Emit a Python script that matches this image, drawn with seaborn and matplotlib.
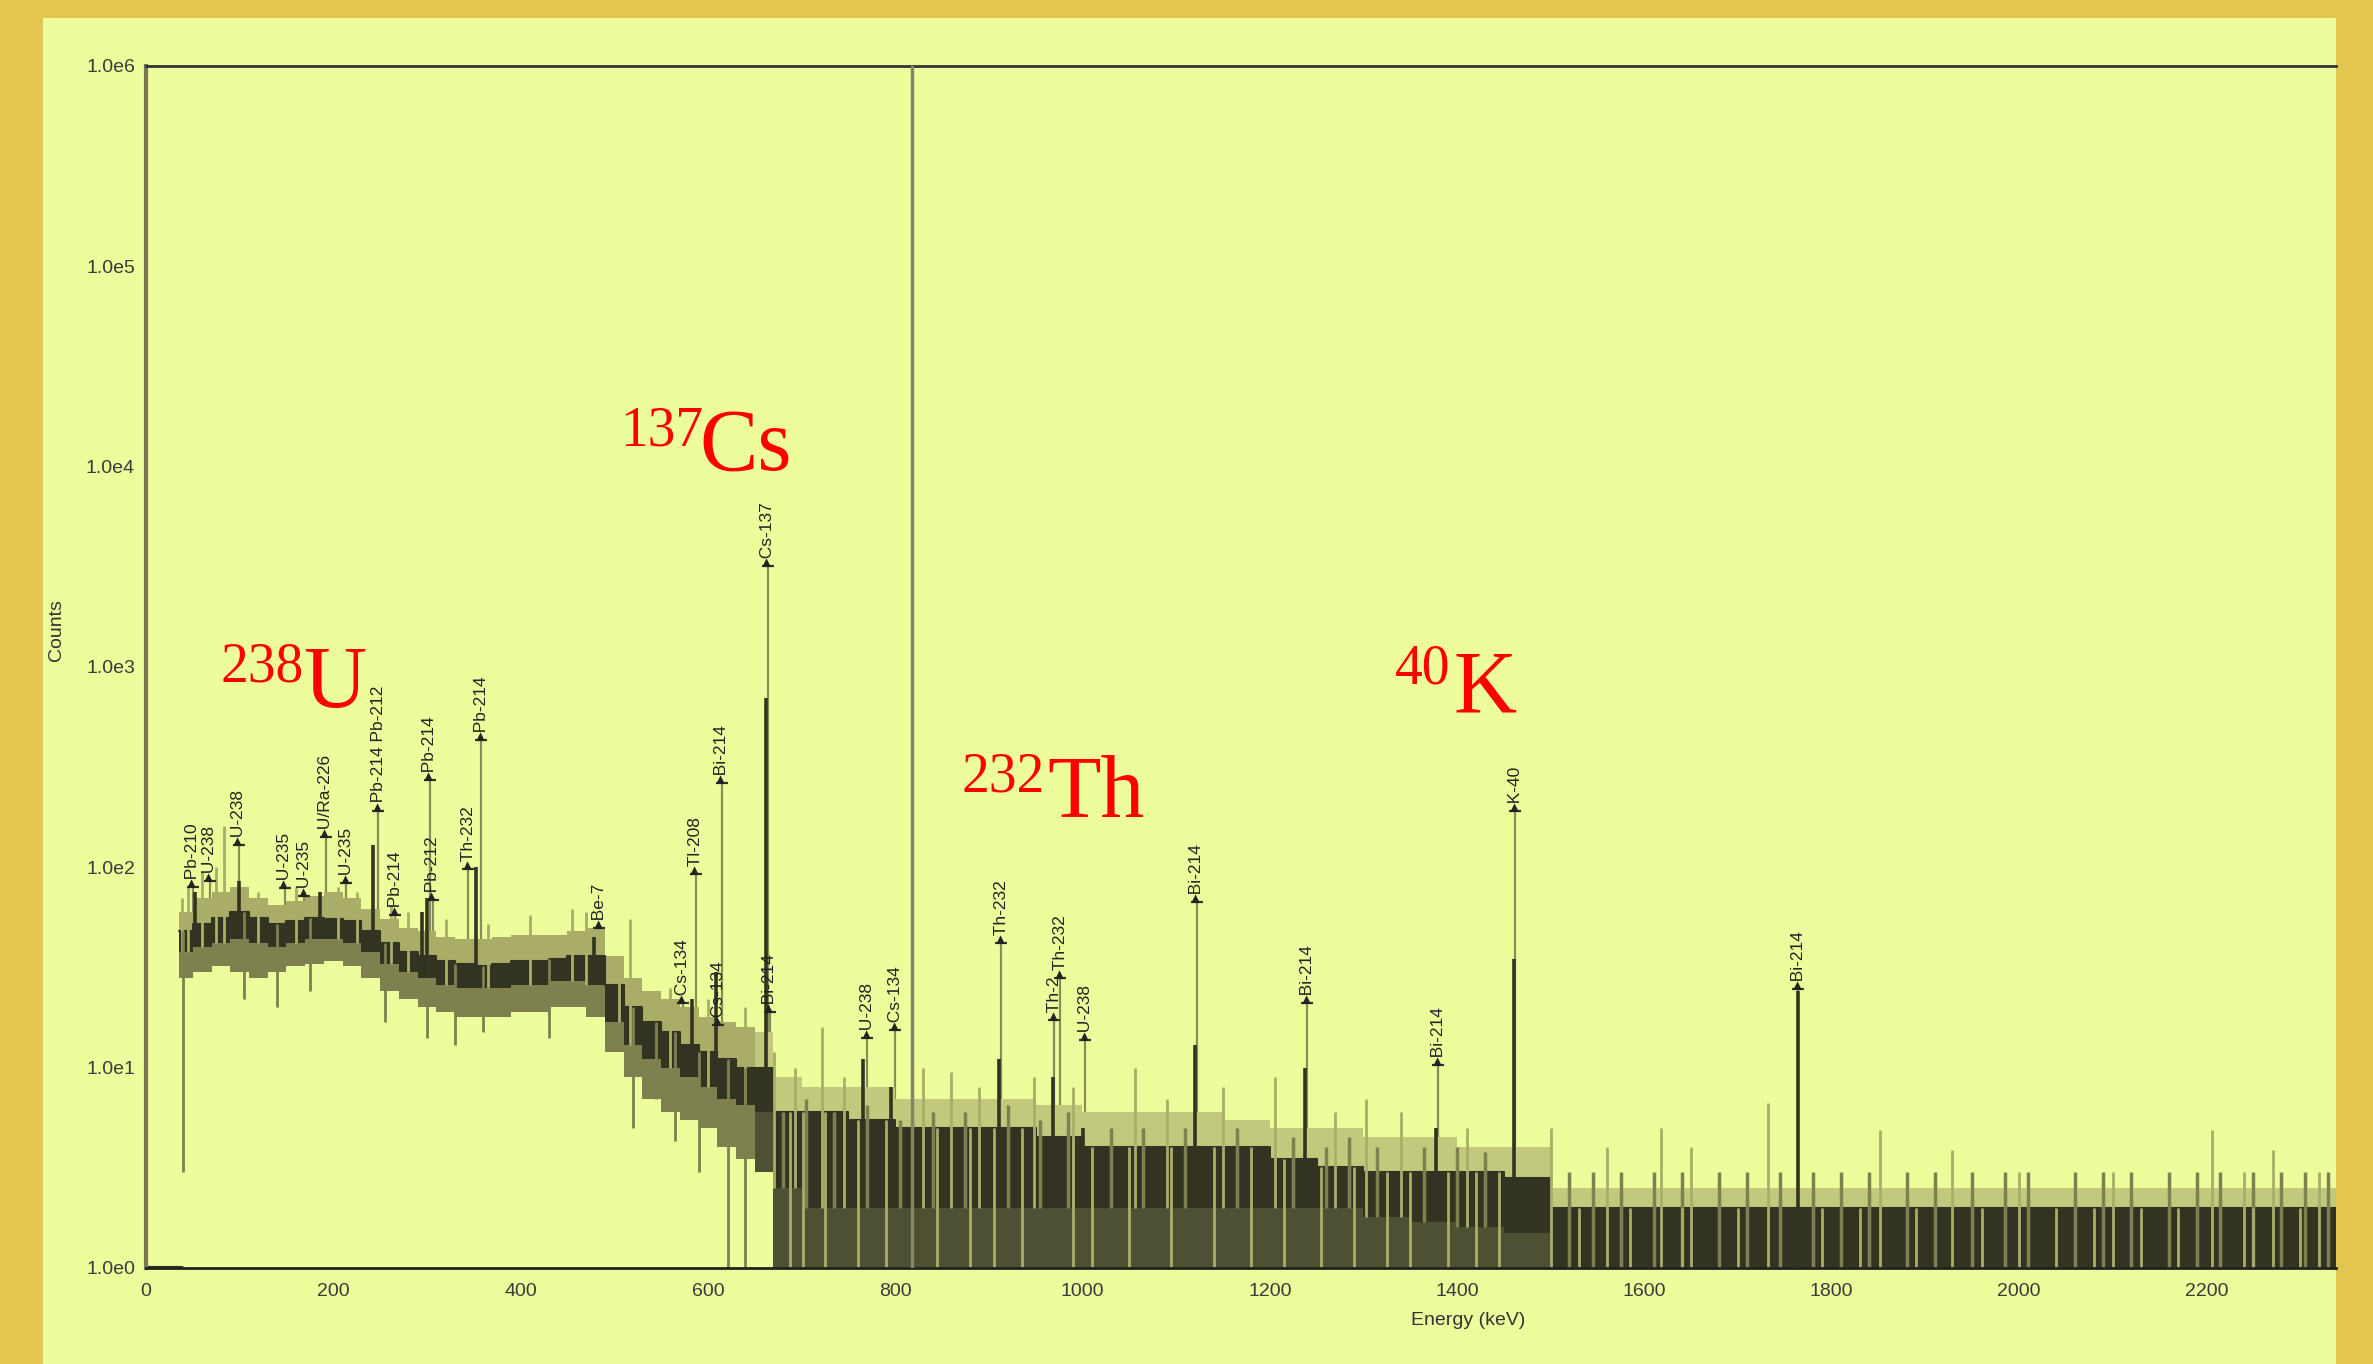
import numpy as np
import pandas as pd
import matplotlib
matplotlib.use('Agg')
import matplotlib.pyplot as plt
from matplotlib.patches import Rectangle
from matplotlib.ticker import FixedLocator, FuncFormatter, NullLocator
import seaborn as sns

sns.set_style('white')
plt.rcParams['font.family'] = ['Liberation Sans', 'DejaVu Sans']

# ---- spectrum continuum (step bins, keV / counts) ----
bg_e = [0, 35, 50, 70, 90, 110, 130, 150, 170, 190, 210, 230, 250, 270, 290, 310,
        330, 350, 370, 390, 410, 430, 450, 470, 490, 510, 530, 550, 570, 590, 610,
        630, 650, 670, 700, 750, 800, 850, 900, 950, 1000, 1050, 1100, 1150, 1200,
        1250, 1300, 1350, 1400, 1450, 1500, 1600, 1700, 1800, 1900, 2000, 2100,
        2200, 2300, 2338]
bg_hi = [1, 60, 70, 75, 80, 70, 65, 68, 72, 75, 70, 62, 55, 50, 48, 45,
         44, 44, 45, 46, 46, 46, 48, 50, 36, 28, 24, 22, 20, 18, 17,
         16, 15, 9, 8, 8, 7, 7, 7, 6.5, 6, 6, 6, 5.5, 5,
         5, 4.5, 4.5, 4, 4, 2.5, 2.5, 2.5, 2.5, 2.5, 2.5, 2.5,
         2.5, 2.5, 2.5]
core_hi = [1, 48, 52, 56, 60, 56, 52, 54, 56, 55, 54, 48, 42, 38, 36, 34,
           33, 32, 33, 34, 34, 35, 36, 36, 26, 20, 17, 15, 13, 12, 11,
           10, 10, 6, 6, 5.5, 5, 5, 5, 4.5, 4, 4, 4, 4, 3.5,
           3.2, 3, 3, 3, 2.8, 2, 2, 2, 2, 2, 2, 2,
           2, 2, 2]
core_lo = [1, 38, 40, 42, 44, 42, 40, 42, 44, 44, 42, 38, 33, 30, 28, 26,
           25, 25, 25, 26, 26, 27, 27, 26, 17, 13, 11, 10, 9, 8, 7,
           6.5, 6, 2.5, 2, 2, 2, 2, 2, 2, 2, 2, 2, 2, 2,
           2, 1.8, 1.7, 1.6, 1.5, 1, 1, 1, 1, 1, 1, 1,
           1, 1, 1]
bg_lo = [1, 28, 30, 32, 30, 28, 30, 32, 33, 34, 32, 28, 24, 22, 20, 19,
         18, 18, 18, 19, 19, 20, 20, 18, 12, 9, 7, 6, 5.5, 5, 4,
         3.5, 3, 1, 1, 1, 1, 1, 1, 1, 1, 1, 1, 1, 1,
         1, 1, 1, 1, 1, 1, 1, 1, 1, 1, 1, 1,
         1, 1, 1]

# single-channel spikes sticking out above the band
spike_e = [38, 45, 60, 75, 83, 120, 160, 205, 225, 262, 280, 320, 365, 410, 455, 470,
           505, 517, 560, 600, 640, 671, 693, 722, 745, 830, 860, 890, 948, 990,
           1056, 1090, 1150, 1206, 1270, 1303, 1340, 1411, 1500, 1560, 1618, 1650,
           1732, 1852, 1928, 2000, 2100, 2206, 2240, 2271, 2320]
spike_c = [70, 80, 95, 100, 160, 75, 80, 80, 75, 65, 60, 55, 52, 58, 62, 60,
           32, 55, 25, 22, 20, 12, 10, 16, 9, 10, 9.5, 8, 9, 8,
           10, 7, 8, 9, 6, 7, 6, 5, 5, 4, 5, 4,
           6.7, 4.9, 3.9, 3, 3, 4.9, 3, 3.9, 3]
# shorter channels standing just above the dark floor band
bump_e = [680, 705, 735, 770, 805, 840, 875, 920, 955, 985, 1030, 1065, 1110, 1165,
          1225, 1260, 1285, 1315, 1365, 1400, 1430, 1520, 1545, 1575, 1610, 1640,
          1680, 1710, 1745, 1780, 1810, 1840, 1880, 1910, 1950, 1985, 2010, 2060,
          2090, 2120, 2160, 2190, 2215, 2250, 2280, 2305, 2330]
bump_c = [6, 7, 6, 6.5, 5.5, 6, 6, 6.5, 5.5, 6, 5, 5, 5, 5,
          4.5, 4, 4.5, 4, 4, 4, 3.8, 3, 3, 3, 3, 3,
          3, 3, 3, 3, 3, 3, 3, 3, 3, 3, 3, 3,
          3, 3, 3, 3, 3, 3, 3, 3, 3]
# channels dropping well below the band
dip_e = [39, 105, 140, 175, 255, 300, 330, 360, 430, 520, 545, 565, 590, 622, 640]
dip_c = [3, 22, 20, 24, 17, 14, 13, 15, 14, 5, 7, 4.3, 3, 1, 1]
# low channels cutting through the dark floor band
gap_e = [688, 702, 725, 760, 790, 845, 880, 905, 935, 990, 1010, 1050, 1095, 1140,
         1180, 1215, 1255, 1290, 1325, 1350, 1390, 1420, 1445, 1530, 1585, 1640,
         1700, 1790, 1830, 1890, 1960, 2040, 2080, 2130, 2170, 2250, 2300]

# full-energy peaks (keV, counts at top)
peak_e = [52, 99, 186, 242, 295, 300, 352, 478, 583, 609, 662, 766, 796, 911, 969,
          1001, 1120, 1238, 1378, 1461, 1764]
peak_c = [75, 85, 75, 130, 60, 70, 100, 45, 22, 30, 700, 11, 8, 11, 9,
          5, 13, 10, 5, 35, 24]

# nuclide markers (keV, text, counts at marker base)
label_e = [50, 68, 99, 148, 169, 192, 214, 248, 266, 303, 306, 344, 358, 484, 573,
           587, 615, 611, 666, 664, 770, 800, 913, 970, 976, 1003, 1122, 1240, 1380,
           1462, 1764]
label_txt = ['Pb-210', 'U-238', 'U-238', 'U-235', 'U-235', 'U/Ra-226', 'U-235',
             'Pb-214 Pb-212', 'Pb-214', 'Pb-214', 'Pb-212', 'Th-232', 'Pb-214', 'Be-7',
             'Cs-134', 'Tl-208', 'Bi-214', 'Cs-134', 'Bi-214', 'Cs-137', 'U-238',
             'Cs-134', 'Th-232', 'Th-2', 'Th-232', 'U-238', 'Bi-214', 'Bi-214',
             'Bi-214', 'K-40', 'Bi-214']
label_c = [80, 85, 130, 79, 72, 142, 84, 191, 58, 274, 69, 98, 433, 50, 21,
           93, 264, 16.3, 19, 3200, 14, 15.5, 42, 17.3, 28, 13.8, 67, 21, 10.3,
           192, 24.8]

cursor_e = 818

PANEL = '#EDFD9C'
DARK = '#333322'
MID = '#7E8050'
FLOOR = '#4E5034'
LIGHT = '#A9AD68'
PALE = '#C3C97C'
LEADER = '#8A8C58'


def band_at(vals, energies):
    # value of the step bin each energy falls into
    idx = np.searchsorted(bg_e, energies, side='right') - 1
    return np.asarray(vals, dtype=float)[idx]


fig = plt.figure(figsize=(23.73, 13.64), dpi=100, facecolor='#E2C64F')
fig.patches.append(Rectangle((43 / 2373, 0), (2336 - 43) / 2373, 1 - 18 / 1364,
                             transform=fig.transFigure, facecolor=PANEL,
                             edgecolor='none', zorder=-5))
ax = fig.add_axes([146 / 2373, 1 - 1268 / 1364, 2189.5 / 2373, 1202 / 1364])
ax.set_zorder(2)
ax.set_facecolor('none')
ax.set_yscale('log')

# leader lines + markers
ax.vlines(label_e, band_at(core_lo, label_e), label_c, color=LEADER, lw=1.6, zorder=1)
ax.plot(label_e, label_c, ls='none', marker='_', ms=9, mew=1.6, color=DARK, zorder=4)
for e, txt, c in zip(label_e, label_txt, label_c):
    ax.text(e, c, '\u25b8' + txt, rotation=90, ha='center', va='bottom',
            fontsize=12.5, color='#222222', zorder=4)

# continuum band
e_arr = np.array(bg_e)
low_part = e_arr < 670
ax.fill_between(bg_e, bg_lo, bg_hi, where=low_part, step='post', color=LIGHT, lw=0, zorder=2)
ax.fill_between(bg_e, bg_lo, bg_hi, where=~low_part | (e_arr == 650), step='post',
                color=PALE, lw=0, zorder=1.9)
ax.fill_between(bg_e, bg_lo, core_lo, where=low_part, step='post', color=MID, lw=0, zorder=2)
ax.fill_between(bg_e, bg_lo, core_lo, where=~low_part | (e_arr == 650), step='post',
                color=FLOOR, lw=0, zorder=1.9)
ax.fill_between(bg_e, core_lo, core_hi, step='post', color=DARK, lw=0, zorder=2)
sns.lineplot(x=bg_e[1:], y=core_hi[1:], drawstyle='steps-post', color=DARK, lw=1.5,
             ax=ax, zorder=2)
ax.plot([0, 38], [1, 1], color=DARK, lw=3, zorder=2)

ax.vlines(spike_e, band_at(core_lo, spike_e), spike_c, color=LIGHT, lw=2, zorder=2)
ax.vlines(bump_e, band_at(core_lo, bump_e), bump_c, color=MID, lw=2.5, zorder=2)
ax.vlines(gap_e, 1, band_at(core_hi, gap_e), color=LIGHT, lw=2, zorder=2)
ax.vlines(dip_e, dip_c, band_at(core_hi, dip_e), color=MID, lw=2, zorder=2)
ax.vlines(peak_e, band_at(core_lo, peak_e), peak_c, color=DARK, lw=2.6, zorder=3)

ax.axvline(cursor_e, color='#868660', lw=2.5, zorder=3)

ax.set_xlim(0, 2338)
ax.set_ylim(1, 1e6)
ax.xaxis.set_major_locator(FixedLocator(np.arange(0, 2201, 200)))
ax.yaxis.set_major_locator(FixedLocator([1, 10, 100, 1e3, 1e4, 1e5, 1e6]))
ax.yaxis.set_minor_locator(NullLocator())
ax.yaxis.set_major_formatter(FuncFormatter(lambda v, p: f'1.0e{int(round(np.log10(v)))}'))
ax.tick_params(axis='both', direction='out', length=5, width=1.5, color='#333333',
               labelsize=14, labelcolor='#3a3a3a', pad=3)
ax.tick_params(axis='x', pad=6)

ax.spines['right'].set_visible(False)
ax.spines['left'].set_color('#777755')
ax.spines['left'].set_linewidth(3)
ax.spines['top'].set_color('#333333')
ax.spines['top'].set_linewidth(2)
ax.spines['bottom'].set_color('#222222')
ax.spines['bottom'].set_linewidth(2)

ax.text(0.604, -0.044, 'Energy (keV)', transform=ax.transAxes, ha='center',
        va='center', fontsize=14, color='#333333')
ax.text(-0.041, 0.531, 'Counts', transform=ax.transAxes, rotation=90, ha='center',
        va='center', fontsize=14, color='#333333')


# red nuclide titles (superscript mass number + symbol)
def nuclide(sup_xy, sym_xy, mass, sym):
    fig.text(sup_xy[0] / 2373, 1 - sup_xy[1] / 1364, mass, color='red', fontsize=40,
             family='Liberation Serif', ha='left', va='baseline', zorder=5)
    fig.text(sym_xy[0] / 2373, 1 - sym_xy[1] / 1364, sym, color='red', fontsize=63,
             family='Liberation Serif', ha='left', va='baseline', zorder=5)


nuclide((220, 681), (303, 707), '238', 'U')
nuclide((620, 446), (699, 470), '137', 'Cs')
nuclide((962, 792), (1047, 817), '232', 'Th')
nuclide((1395, 684), (1453, 711), '40', 'K')

fig.savefig('out.png', dpi=100, facecolor=fig.get_facecolor())
